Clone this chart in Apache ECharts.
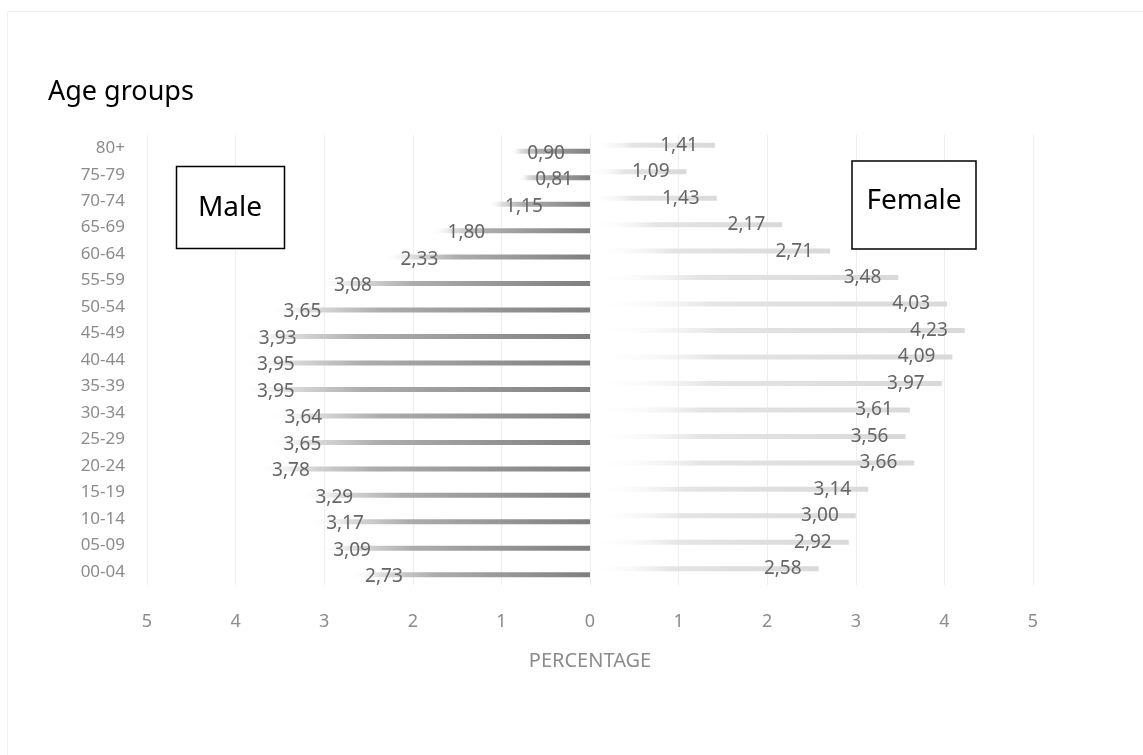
<!DOCTYPE html>
<html>
<head>
<meta charset="utf-8">
<script src="https://cdn.jsdelivr.net/npm/echarts@6/dist/echarts.min.js"></script>
<style>
html,body{margin:0;padding:0;background:#fff;}
#chart{width:1143px;height:755px;}
</style>
</head>
<body>
<div id="chart"></div>
<script>
const categories = ['00-04','05-09','10-14','15-19','20-24','25-29','30-34','35-39','40-44','45-49','50-54','55-59','60-64','65-69','70-74','75-79','80+'];
const maleValues = [2.73,3.09,3.17,3.29,3.78,3.65,3.64,3.95,3.95,3.93,3.65,3.08,2.33,1.80,1.15,0.81,0.90];
const femaleValues = [2.58,2.92,3.00,3.14,3.66,3.56,3.61,3.97,4.09,4.23,4.03,3.48,2.71,2.17,1.43,1.09,1.41];
const xTicks = [-5,-4,-3,-2,-1,0,1,2,3,4,5];

const FONT = '"Noto Sans", "Open Sans", sans-serif';
const chart = echarts.init(document.getElementById('chart'), null, {renderer:'canvas'});
const fmt = v => Math.abs(v).toFixed(2).replace('.', ',');

chart.setOption({
  animation: false,
  backgroundColor: '#fff',
  textStyle: {fontFamily: FONT},
  grid: {left: 147, right: 110, top: 135, bottom: 170},
  xAxis: {
    type: 'value', min: xTicks[0], max: xTicks[xTicks.length-1], interval: 1,
    axisLine: {show:false}, axisTick: {show:false},
    splitLine: {show:true, lineStyle:{color:'#eeeeee', width:1}},
    axisLabel: {formatter: v => String(Math.abs(v)), color:'#8c8c8c', fontSize:18, margin:28, fontFamily: FONT},
    name: 'PERCENTAGE', nameLocation: 'middle', nameGap: 66,
    nameTextStyle: {color:'#8c8c8c', fontSize:20, fontFamily: FONT}
  },
  yAxis: {
    type: 'category', data: categories,
    axisLine: {show:false}, axisTick: {show:false},
    axisLabel: {color:'#8c8c8c', fontSize:17, margin:22, fontFamily: FONT}
  },
  series: [
    {
      name: 'Female', type: 'bar', barWidth: 5, barGap: '20%',
      data: femaleValues,
      itemStyle: {color: new echarts.graphic.LinearGradient(0,0,1,0,[
        {offset:0, color:'rgba(255,255,255,0)'},
        {offset:0.35, color:'#e4e4e4'},
        {offset:1, color:'#d9d9d9'}
      ])},
      label: {show:true, position:'insideRight', distance:17, formatter: p => fmt(p.value),
        color:'#666666', fontSize:19, fontFamily: FONT}
    },
    {
      name: 'Male', type: 'bar', barWidth: 5, barGap: '20%',
      data: maleValues.map(v => -v),
      itemStyle: {color: new echarts.graphic.LinearGradient(0,0,1,0,[
        {offset:0, color:'rgba(255,255,255,0)'},
        {offset:0.14, color:'#dcdcdc'},
        {offset:0.35, color:'#adadad'},
        {offset:1, color:'#7f7f7f'}
      ])},
      label: {show:true, position:'insideLeft', distance:17, offset:[0,2], formatter: p => fmt(p.value),
        color:'#666666', fontSize:19, fontFamily: FONT}
    }
  ],
  graphic: [
    {type:'rect', shape:{x:7.5,y:11.5,width:1160,height:760}, style:{fill:'none', stroke:'#f0f0f0', lineWidth:1}, silent:true, z:-1},
    {type:'text', x:48, y:92, style:{text:'Age groups', font:'27px ' + FONT, fill:'#000', textVerticalAlign:'middle'}},
    {type:'rect', shape:{x:176.5,y:166.5,width:108,height:82}, style:{fill:'#fff', stroke:'#000', lineWidth:1.5}, z:10},
    {type:'text', x:230, y:208, style:{text:'Male', font:'28px ' + FONT, fill:'#000', textAlign:'center', textVerticalAlign:'middle'}, z:11},
    {type:'rect', shape:{x:852,y:161,width:124,height:88}, style:{fill:'#fff', stroke:'#000', lineWidth:1.5}, z:10},
    {type:'text', x:914, y:201, style:{text:'Female', font:'28px ' + FONT, fill:'#000', textAlign:'center', textVerticalAlign:'middle'}, z:11}
  ]
});
</script>
</body>
</html>
